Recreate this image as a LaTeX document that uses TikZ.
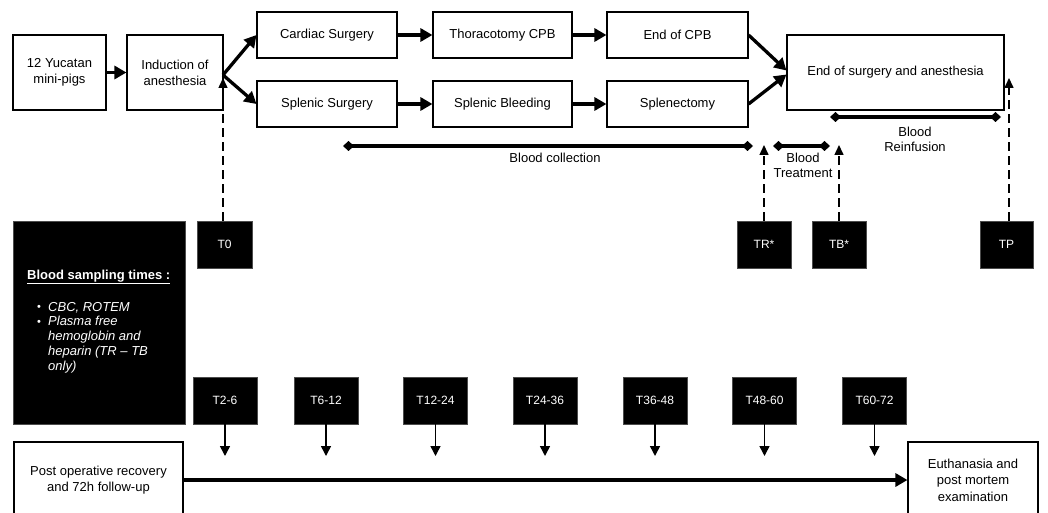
\documentclass[tikz,border=0pt]{standalone}
\usepackage{fontspec}
\setmainfont{Liberation Sans}
\usetikzlibrary{arrows.meta,positioning,calc}
\tikzset{
  box/.style={draw=black, line width=1.1pt, fill=white, align=center, inner sep=2pt, font=\fontsize{13}{16}\selectfont},
  tbox/.style={draw=black!70, line width=0.8pt, fill=black, text=white, minimum width=#1, minimum height=47pt, inner sep=0pt, font=\fontsize{12}{14}\selectfont},
  tbox/.default=55pt,
  bigarrow/.style={line width=3.3pt, -{Triangle[length=12pt,width=13pt]}},
  dashup/.style={line width=1.5pt, dash pattern=on 9pt off 5pt, -{Triangle[length=10pt,width=9pt]}},
  smallarrow/.style={line width=1.5pt, -{Triangle[length=10pt,width=10pt]}},
  span/.style={line width=3.3pt, {Diamond[length=11pt,width=10pt]}-{Diamond[length=11pt,width=10pt]}},
  lbl/.style={align=center, font=\fontsize{13}{15}\selectfont, inner sep=0pt},
}
\begin{document}
\begin{tikzpicture}[x=1pt,y=-1pt]
\useasboundingbox (0,0) rectangle (1048,513);
% top row
\node[box, minimum width=93pt, minimum height=75pt] (pigs) at (59.5,72.5) {12 Yucatan\\mini-pigs};
\node[box, minimum width=96pt, minimum height=75pt] (induct) at (175,72.5) {Induction of\\anesthesia};
\node[box, minimum width=140pt, minimum height=46pt] (cardiac) at (327,35) {Cardiac Surgery};
\node[box, minimum width=140pt, minimum height=46pt] (splenic) at (327,104) {Splenic Surgery};
\node[box, minimum width=139pt, minimum height=46pt] (thor) at (502.5,35) {Thoracotomy CPB};
\node[box, minimum width=139pt, minimum height=46pt] (bleed) at (502.5,104) {Splenic Bleeding};
\node[box, minimum width=141pt, minimum height=46pt] (endcpb) at (677.5,35) {End of CPB};
\node[box, minimum width=141pt, minimum height=46pt] (splx) at (677.5,104) {Splenectomy};
\node[box, minimum width=217pt, minimum height=75pt] (endsurg) at (895.5,72.5) {End of surgery and anesthesia};

\coordinate (fan) at (223,75);
\draw[bigarrow] (pigs.east) -- (induct.west);
\draw[bigarrow] (fan) -- (cardiac.west);
\draw[bigarrow] (fan) -- (splenic.west);
\draw[bigarrow] (cardiac.east) -- (thor.west);
\draw[bigarrow] (thor.east) -- (endcpb.west);
\draw[bigarrow] (splenic.east) -- (bleed.west);
\draw[bigarrow] (bleed.east) -- (splx.west);
\draw[bigarrow] (endcpb.east) -- ($(endsurg.west)+(0,-2)$);
\draw[bigarrow] (splx.east) -- ($(endsurg.west)+(0,2)$);

% spans
\coordinate (bc1) at (343,146); \coordinate (bc2) at (753,146);
\coordinate (bt1) at (773,146); \coordinate (bt2) at (830,146);
\coordinate (br1) at (830,117); \coordinate (br2) at (1001,117);
\draw[span] (bc1) -- (bc2);
\draw[span] (bt1) -- (bt2);
\draw[span] (br1) -- (br2);
\node[lbl] (bclbl) at (555,158) {Blood collection};
\node[lbl] (btlbl) at (803,165.5) {Blood\\Treatment};
\node[lbl] (brlbl) at (915,139.5) {Blood\\Reinfusion};

% T boxes upper
\node[tbox=55pt] (T0) at (224.5,244.5) {T0};
\node[tbox=54pt] (TR) at (764,244.5) {TR*};
\node[tbox=54pt] (TB) at (839,244.5) {TB*};
\node[tbox=53pt] (TP) at (1006.5,244.5) {TP};

\coordinate (t0tip) at (223,78);
\coordinate (trtip) at (764,145);
\coordinate (tbtip) at (839,145);
\coordinate (tptip) at (1009,78);
\draw[dashup] (T0.north -| t0tip) -- (t0tip);
\draw[dashup] (TR.north) -- (trtip);
\draw[dashup] (TB.north) -- (tbtip);
\draw[dashup] (TP.north -| tptip) -- (tptip);

% info box
\node[draw=black!70, fill=black, minimum width=172pt, minimum height=203pt, inner sep=0pt] (info) at (99,322.5) {};
\node[anchor=west, text=white, inner sep=0pt, font=\fontsize{13}{15}\selectfont\bfseries] (infotitle) at (27,277) {\underline{Blood sampling times :}};
\node[anchor=west, text=white, inner sep=0pt, font=\fontsize{11}{15}\selectfont] (b1) at (37,308) {•};
\node[anchor=west, text=white, inner sep=0pt, font=\fontsize{11}{15}\selectfont] (b2) at (37,323) {•};
\node[anchor=west, text=white, inner sep=0pt, font=\fontsize{13}{15}\selectfont\itshape] (i1) at (48,308) {CBC, ROTEM};
\node[anchor=north west, text=white, inner sep=0pt, align=left, font=\fontsize{13}{15}\selectfont\itshape] (i2) at (48,316) {Plasma free\\hemoglobin and\\heparin (TR -- TB\\only)};

% bottom T boxes
\foreach \n/\x/\t in {a/225/T2-6, b/326/T6-12, c/435.5/T12-24, d/545/T24-36, e/655/T36-48, f/764.5/T48-60, g/874.5/T60-72}{
  \node[tbox=64pt] (B\n) at (\x,400.5) {\t};
  \coordinate (tip\n) at (\x,456);
  \draw[smallarrow] (B\n.south) -- (tip\n);
}

% bottom row
\node[box, minimum width=169pt, minimum height=76pt] (postop) at (98.5,480) {Post operative recovery\\and 72h follow-up};
\node[box, minimum width=130pt, minimum height=76pt, font=\fontsize{13}{16.5}\selectfont] (euth) at (973,480) {Euthanasia and\\post mortem\\examination};
\draw[bigarrow] (postop.east) -- (euth.west);
\end{tikzpicture}
\end{document}
